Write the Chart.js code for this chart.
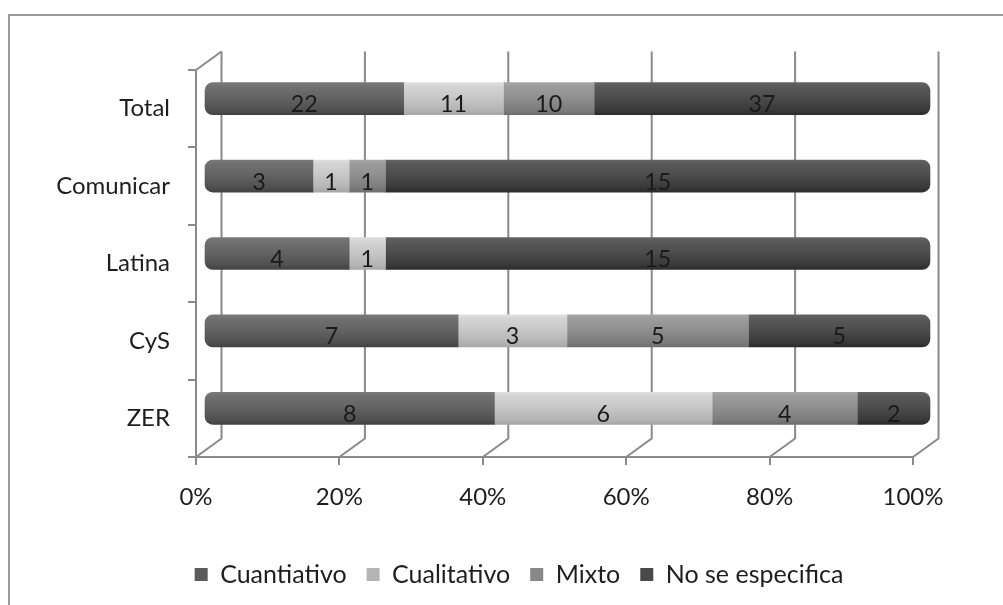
<!DOCTYPE html>
<html>
<head>
<meta charset="utf-8">
<script src="https://cdn.jsdelivr.net/npm/chart.js@4.4.1/dist/chart.umd.min.js"></script>
<style>
  html, body { margin: 0; padding: 0; background: #fff; overflow: hidden; width: 1003px; height: 605px; }
  #frame { position: absolute; left: 8px; top: 14px; width: 1030px; height: 620px;
           border-left: 2px solid #9a9a9a; border-top: 2px solid #9a9a9a; }
  #c { position: absolute; left: 0; top: 0; }
</style>
</head>
<body>
<div id="frame"><canvas id="c" width="1020" height="600"></canvas></div>
<script>
// ---- Data ----
const categories   = ['Total', 'Comunicar', 'Latina', 'CyS', 'ZER'];
const seriesNames  = ['Cuantiativo', 'Cualitativo', 'Mixto', 'No se especifica'];
const cuantiativo  = [22, 3, 4, 7, 8];
const cualitativo  = [11, 1, 1, 3, 6];
const mixto        = [10, 1, 0, 5, 4];
const noEspecifica = [37, 15, 15, 5, 2];
const tickValues   = [0, 20, 40, 60, 80, 100];

// ---- Styles ----
const baseColors   = ['#626262', '#c6c6c6', '#8e8e8e', '#4b4b4b'];
const legendColors = ['#5c5c5c', '#b4b4b4', '#888888', '#4a4a4a'];
const gridColor = '#8a8a8a';
const FONT = 'Lato';
const DEPTH_X = 25.5, DEPTH_Y = 18.5;   // 3D wall offset
const BAR_DX = 8, BAR_DY = -10;         // bars sit halfway into the depth
const BAR_STRETCH = 1.0125;             // slight perspective widening
const BAR_H = 32;
const LEGEND_CENTER = 509;

const counts = [cuantiativo, cualitativo, mixto, noEspecifica];
const totals = categories.map((_, i) => counts.reduce((s, arr) => s + arr[i], 0));
const percentOf = arr => arr.map((v, i) => v / totals[i] * 100);

function shade(hex, amt) {
  const n = parseInt(hex.slice(1), 16);
  const c = [(n >> 16) & 255, (n >> 8) & 255, n & 255].map(v => Math.max(0, Math.min(255, Math.round(v + amt))));
  return 'rgb(' + c.join(',') + ')';
}

function gradientFor(seriesIdx) {
  return function (ctx) {
    const base = baseColors[seriesIdx];
    const chart = ctx.chart;
    if (ctx.type !== 'data' || !chart.scales || !chart.scales.y) return base;
    const yc = chart.scales.y.getPixelForValue(ctx.dataIndex);
    const g = chart.ctx.createLinearGradient(0, yc - BAR_H / 2, 0, yc + BAR_H / 2);
    g.addColorStop(0, shade(base, 24));
    g.addColorStop(0.12, shade(base, 14));
    g.addColorStop(0.45, shade(base, 2));
    g.addColorStop(0.85, shade(base, -18));
    g.addColorStop(1, shade(base, -32));
    return g;
  };
}

const R = 8;
const radii = [
  { topLeft: R, bottomLeft: R, topRight: 0, bottomRight: 0 },
  0, 0,
  { topLeft: 0, bottomLeft: 0, topRight: R, bottomRight: R }
];

const datasets = counts.map((arr, k) => ({
  label: seriesNames[k],
  data: percentOf(arr),
  rawCounts: arr,
  backgroundColor: gradientFor(k),
  borderWidth: 0,
  borderSkipped: false,
  borderRadius: radii[k],
  barThickness: BAR_H,
  clip: false
}));

const wallPlugin = {
  id: 'walls',
  afterLayout(chart) {
    const lg = chart.legend;
    if (lg) {
      const w = lg.right - lg.left;
      lg.left = LEGEND_CENTER - w / 2;
      lg.right = LEGEND_CENTER + w / 2;
    }
  },
  beforeDatasetsDraw(chart) {
    const ctx = chart.ctx;
    const xs = chart.scales.x;
    const { top, bottom, left } = chart.chartArea;
    ctx.save();
    ctx.strokeStyle = gridColor;
    ctx.lineWidth = 2;
    tickValues.forEach(v => {
      const x = xs.getPixelForValue(v);
      ctx.beginPath();
      ctx.moveTo(x, bottom);
      ctx.lineTo(x + DEPTH_X, bottom - DEPTH_Y);
      ctx.lineTo(x + DEPTH_X, top - DEPTH_Y);
      ctx.stroke();
    });
    ctx.beginPath();
    ctx.moveTo(left, top);
    ctx.lineTo(left + DEPTH_X, top - DEPTH_Y);
    ctx.stroke();
    ctx.restore();
    ctx.save();
    ctx.translate(left + BAR_DX, BAR_DY);
    ctx.scale(BAR_STRETCH, 1);
    ctx.translate(-left, 0);
  },
  afterDatasetsDraw(chart) {
    const ctx = chart.ctx;
    ctx.font = '23px ' + FONT;
    ctx.fillStyle = '#1a1a1a';
    ctx.textAlign = 'center';
    ctx.textBaseline = 'middle';
    chart.data.datasets.forEach((ds, di) => {
      const meta = chart.getDatasetMeta(di);
      meta.data.forEach((el, i) => {
        const v = ds.rawCounts[i];
        if (!v) return;
        const p = el.getProps(['x', 'y', 'base'], true);
        ctx.fillText(String(v), (p.x + p.base) / 2, p.y + 6);
      });
    });
    ctx.restore();
  }
};

new Chart(document.getElementById('c'), {
  type: 'bar',
  data: { labels: categories, datasets },
  plugins: [wallPlugin],
  options: {
    indexAxis: 'y',
    responsive: false,
    animation: false,
    devicePixelRatio: 1,
    layout: { padding: { left: 0, right: 117, top: 54, bottom: 19 } },
    scales: {
      x: {
        stacked: true,
        min: 0, max: 100,
        afterBuildTicks(scale) { scale.ticks = tickValues.map(v => ({ value: v })); },
        afterFit(scale) { scale.height = 85; },
        ticks: {
          callback: v => v + '%',
          font: { family: FONT, size: 24 },
          color: '#1e1e1e',
          padding: 18,
          maxRotation: 0
        },
        grid: { drawOnChartArea: false, drawTicks: true, tickLength: 8, color: gridColor, lineWidth: 2 },
        border: { display: true, color: gridColor, width: 2 }
      },
      y: {
        stacked: true,
        afterFit(scale) { scale.width = 186; },
        ticks: {
          font: { family: FONT, size: 24 },
          color: '#1e1e1e',
          padding: 18
        },
        grid: { drawOnChartArea: false, drawTicks: true, tickLength: 8, color: gridColor, lineWidth: 2, offset: true },
        border: { display: true, color: gridColor, width: 2 }
      }
    },
    plugins: {
      tooltip: { enabled: false },
      legend: {
        position: 'bottom',
        labels: {
          font: { family: FONT, size: 25 },
          color: '#1e1e1e',
          boxWidth: 13,
          boxHeight: 13,
          padding: 20,
          generateLabels(chart) {
            return chart.data.datasets.map((ds, i) => ({
              text: ds.label,
              fillStyle: legendColors[i],
              strokeStyle: legendColors[i],
              lineWidth: 0,
              hidden: false,
              datasetIndex: i,
              fontColor: '#1e1e1e'
            }));
          }
        }
      }
    }
  }
});
</script>
</body>
</html>
